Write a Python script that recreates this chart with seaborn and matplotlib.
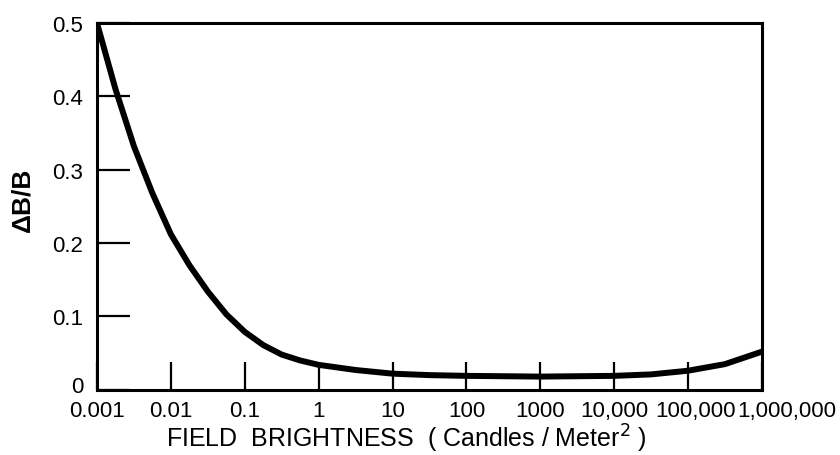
import numpy as np
import pandas as pd
import seaborn as sns
import matplotlib
matplotlib.use("Agg")
import matplotlib.pyplot as plt
from matplotlib.transforms import ScaledTranslation

# values (quarter / half decade readings)
brightness = [0.001, 10**-2.75, 10**-2.5, 10**-2.25, 0.01, 10**-1.75, 10**-1.5,
              10**-1.25, 0.1, 10**-0.75, 10**-0.5, 10**-0.25, 1, 10**0.5, 10,
              10**1.5, 100, 1000, 10000, 10**4.5, 100000, 10**5.5, 1000000]
contrast = [0.50, 0.41, 0.332, 0.268, 0.212, 0.170, 0.134,
            0.103, 0.079, 0.061, 0.048, 0.040, 0.034, 0.027, 0.022,
            0.020, 0.019, 0.018, 0.019, 0.021, 0.026, 0.035, 0.052]

xticks = [0.001, 0.01, 0.1, 1, 10, 100, 1000, 10000, 100000, 1000000]
xticklabels = ["0.001", "0.01", "0.1", "1", "10", "100", "1000",
               "10,000", "100,000", "1,000,000"]
yticks = [0, 0.1, 0.2, 0.3, 0.4, 0.5]
yticklabels = ["0", "0.1", "0.2", "0.3", "0.4", "0.5"]

df = pd.DataFrame({"brightness": brightness, "contrast": contrast})

sns.set_style("white")
plt.rcParams["font.family"] = ["Liberation Sans", "DejaVu Sans"]

fig = plt.figure(figsize=(8.4, 4.56), dpi=100)
ax = fig.add_axes([0.1155, 0.143, 0.7915, 0.804])

sns.lineplot(data=df, x="brightness", y="contrast", ax=ax,
             color="black", linewidth=4.3, solid_capstyle="butt",
             solid_joinstyle="round")

ax.set_xscale("log")
ax.set_xlim(0.001, 1000000)
ax.set_ylim(0, 0.5)
ax.set_xticks(xticks)
ax.set_xticklabels(xticklabels)
ax.set_yticks(yticks)
ax.set_yticklabels(yticklabels)
ax.minorticks_off()

ax.tick_params(axis="x", which="major", bottom=True, top=False, direction="in",
               length=20, width=1.6, pad=7, labelsize=16, colors="black")
ax.tick_params(axis="y", which="major", left=True, right=False, direction="in",
               length=24, width=1.6, pad=10, labelsize=16, colors="black")

# the last x labels sit a bit to the right, the y "0" a bit higher
lbls = ax.get_xticklabels()
lbls[-1].set_transform(lbls[-1].get_transform() + ScaledTranslation(0.25, 0, fig.dpi_scale_trans))
lbls[-2].set_transform(lbls[-2].get_transform() + ScaledTranslation(0.07, 0, fig.dpi_scale_trans))
ylbls = ax.get_yticklabels()
ylbls[0].set_transform(ylbls[0].get_transform() + ScaledTranslation(0, 0.06, fig.dpi_scale_trans))

for s in ax.spines.values():
    s.set_visible(True)
    s.set_color("black")
    s.set_linewidth(2.2)

ax.set_xlabel("FIELD  BRIGHTNESS  ( Candles / Meter$^2$ )", fontsize=18, color="black")
ax.xaxis.set_label_coords(0.465, -0.088)
ax.set_ylabel("\u0394B/B", fontsize=19, fontweight="bold", color="black")
ax.yaxis.set_label_coords(-0.094, 0.52)

fig.savefig("out.png", dpi=100, facecolor="white")
